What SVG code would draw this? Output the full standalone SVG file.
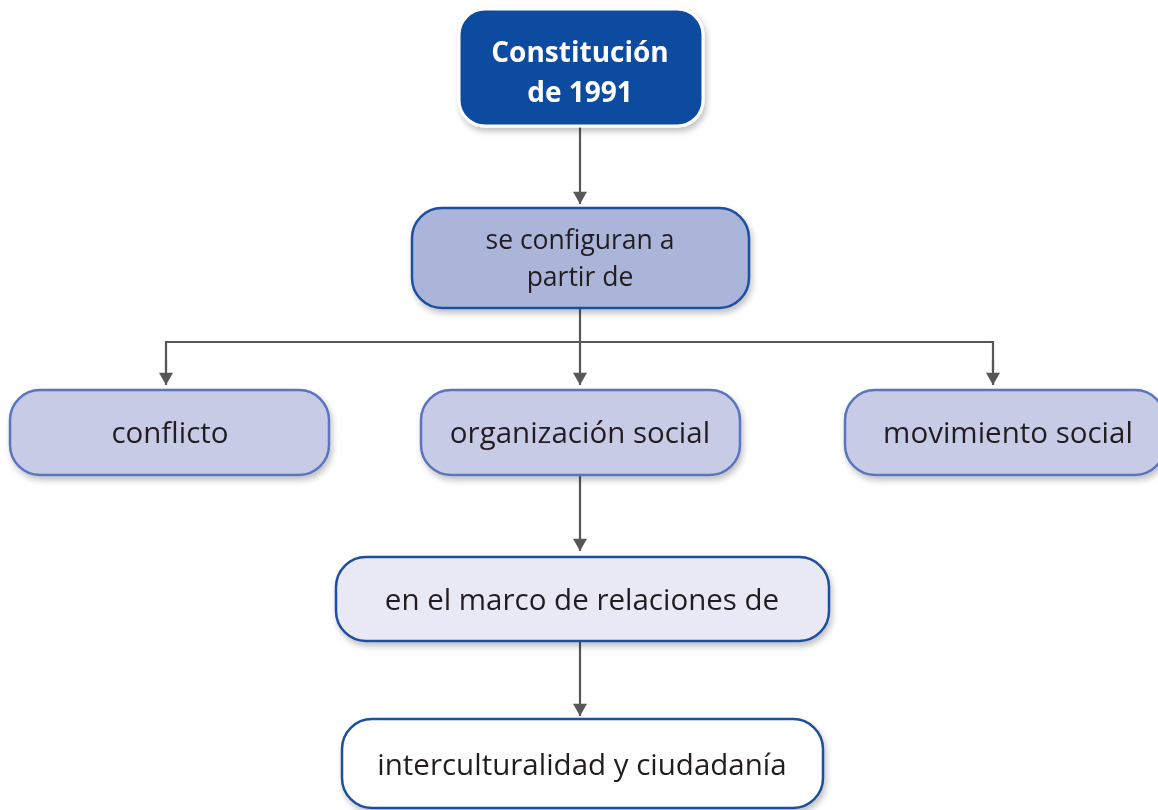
<svg xmlns="http://www.w3.org/2000/svg" width="1158" height="810" viewBox="0 0 1158 810">
<defs>
<marker id="ah" viewBox="0 0 14 16" refX="14" refY="8" markerWidth="16" markerHeight="14" markerUnits="userSpaceOnUse" orient="auto">
<path d="M0,0 L14,8 L0,16 z" fill="#555759"/>
</marker>
<filter id="sh" x="-10%" y="-10%" width="120%" height="130%">
<feGaussianBlur in="SourceAlpha" stdDeviation="3"/>
<feOffset dx="2" dy="4" result="b"/>
<feComponentTransfer><feFuncA type="linear" slope="0.25"/></feComponentTransfer>
<feMerge><feMergeNode/><feMergeNode in="SourceGraphic"/></feMerge>
</filter>
<style>
.t{font-family:"Open Sans","Noto Sans","Liberation Sans",sans-serif;font-size:29.5px;fill:#231f20;text-anchor:middle}
.tb{font-family:"Open Sans","Noto Sans","Liberation Sans",sans-serif;font-size:28px;font-weight:bold;fill:#ffffff;text-anchor:middle}
.c{stroke:#555759;stroke-width:2.2;fill:none}
.mid{fill:#c7cbe6;stroke:#5a75bf;stroke-width:2.5}
</style>
</defs>
<g id="connectors">
<line class="c" x1="580" y1="127" x2="580" y2="204" marker-end="url(#ah)"/>
<line class="c" x1="580" y1="308" x2="580" y2="385" marker-end="url(#ah)"/>
<polyline class="c" points="166,370 166,342 993,342 993,370" />
<line class="c" x1="166" y1="360" x2="166" y2="385" marker-end="url(#ah)"/>
<line class="c" x1="993" y1="360" x2="993" y2="385" marker-end="url(#ah)"/>
<line class="c" x1="580" y1="476" x2="580" y2="551" marker-end="url(#ah)"/>
<line class="c" x1="580" y1="642" x2="580" y2="716" marker-end="url(#ah)"/>
</g>
<g id="n1" filter="url(#sh)">
<rect x="459" y="9" width="244" height="117" rx="26" fill="#0f4ca0" stroke="#ffffff" stroke-width="3"/>
<text class="tb" x="580" y="62"><tspan x="580" y="62">Constitución</tspan><tspan x="580" y="102">de 1991</tspan></text>
</g>
<g id="n2" filter="url(#sh)">
<rect x="412" y="208" width="337" height="100" rx="30" fill="#abb5da" stroke="#1e4fa0" stroke-width="2.5"/>
<text class="t" x="580" y="249" style="font-size:26.5px"><tspan x="580" y="249">se configuran a</tspan><tspan x="580" y="286">partir de</tspan></text>
</g>
<g id="n3" filter="url(#sh)">
<rect class="mid" x="10" y="390" width="319" height="85" rx="30"/>
<text class="t" x="170" y="443">conflicto</text>
</g>
<g id="n4" filter="url(#sh)">
<rect class="mid" x="421" y="390" width="319" height="85" rx="30"/>
<text class="t" x="580" y="443">organización social</text>
</g>
<g id="n5" filter="url(#sh)">
<rect class="mid" x="845" y="390" width="320" height="85" rx="30"/>
<text class="t" x="1008" y="443">movimiento social</text>
</g>
<g id="n6" filter="url(#sh)">
<rect x="336" y="557" width="493" height="84" rx="30" fill="#e8e9f4" stroke="#1e4fa0" stroke-width="2.5"/>
<text class="t" x="582" y="610">en el marco de relaciones de</text>
</g>
<g id="n7" filter="url(#sh)">
<rect x="342" y="719" width="481" height="89" rx="30" fill="#ffffff" stroke="#1e4fa0" stroke-width="2.5"/>
<text class="t" x="582" y="775">interculturalidad y ciudadanía</text>
</g>
</svg>
